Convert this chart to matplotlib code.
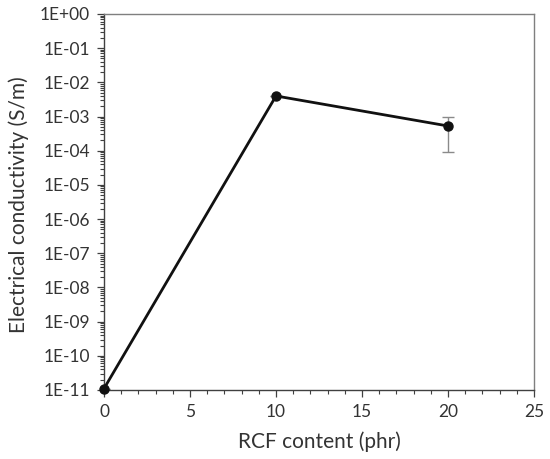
import matplotlib
matplotlib.use("Agg")
import matplotlib.pyplot as plt
from matplotlib.ticker import FixedLocator, LogLocator, MultipleLocator, NullFormatter

plt.rcParams["font.family"] = ["Lato", "DejaVu Sans"]

rcf_content = [0, 10, 20]
conductivity = [1.1e-11, 4.0e-3, 5.3e-4]
cond_err = [0, 0, 4.4e-4]
decades = list(range(-11, 1))
y_labels = [f"1E{d:+03d}" for d in decades]

fig = plt.figure(figsize=(5.5, 4.59), dpi=100)
ax = fig.add_axes([104 / 550, 1 - 390 / 459, (534 - 104) / 550, (390 - 14) / 459])

ax.errorbar(rcf_content, conductivity, yerr=cond_err, fmt="none",
            ecolor="#8a8a8a", elinewidth=1.0, capsize=4, capthick=1.0, zorder=2)
ax.plot(rcf_content, conductivity, color="#111111", lw=2, marker="o", ms=6.5,
        clip_on=False, zorder=3)

ax.set_yscale("log")
ax.set_ylim(1e-11, 1e0)
ax.set_xlim(0, 25)

ax.yaxis.set_major_locator(FixedLocator([10.0 ** d for d in decades]))
ax.set_yticklabels(y_labels)
ax.yaxis.set_minor_locator(LogLocator(base=10, subs=range(2, 10), numticks=20))
ax.yaxis.set_minor_formatter(NullFormatter())
ax.xaxis.set_major_locator(MultipleLocator(5))
ax.xaxis.set_minor_locator(MultipleLocator(1))

ax.tick_params(axis="both", which="major", labelsize=12.5, length=5, width=0.9,
               direction="out", color="#404040", pad=5)
ax.tick_params(axis="both", which="minor", length=3, width=0.8,
               direction="out", color="#404040")

for side in ["left", "bottom"]:
    ax.spines[side].set_color("#404040")
    ax.spines[side].set_linewidth(1.0)
for side in ["top", "right"]:
    ax.spines[side].set_color("#7f7f7f")
    ax.spines[side].set_linewidth(1.0)

ax.set_xlabel("RCF content (phr)", fontsize=15, color="#333333")
ax.set_ylabel("Electrical conductivity (S/m)", fontsize=15, color="#333333")
ax.xaxis.set_label_coords(0.502, -0.11)
ax.yaxis.set_label_coords(-0.175, 0.492)
for lab in ax.get_xticklabels() + ax.get_yticklabels():
    lab.set_color("#333333")

fig.savefig("out.png", dpi=100)
